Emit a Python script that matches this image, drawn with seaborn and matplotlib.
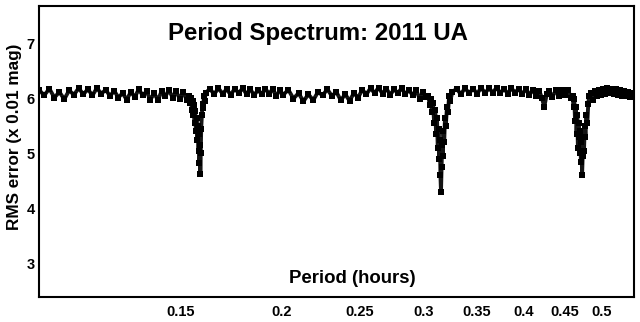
import numpy as np
import pandas as pd
import matplotlib
matplotlib.use("Agg")
import matplotlib.pyplot as plt
import seaborn as sns

# baseline of the spectrum (period in hours, rms in 0.01 mag)
base_period = [0.1000, 0.1015, 0.1030, 0.1045, 0.1060, 0.1075, 0.1090, 0.1105, 0.1120, 0.1135,
               0.1150, 0.1165, 0.1180, 0.1195, 0.1210, 0.1225, 0.1240, 0.1255, 0.1270, 0.1285,
               0.1300, 0.1315, 0.1330, 0.1345, 0.1360, 0.1375, 0.1390, 0.1405, 0.1420, 0.1435,
               0.1450, 0.1465, 0.1480, 0.1495, 0.1510, 0.1525,
               0.1610, 0.1630, 0.1650, 0.1670, 0.1690, 0.1710, 0.1730, 0.1750, 0.1770, 0.1790,
               0.1810, 0.1830, 0.1850, 0.1870, 0.1890, 0.1910, 0.1930, 0.1950, 0.1970, 0.1990,
               0.2010, 0.2040, 0.2070, 0.2100, 0.2130, 0.2160, 0.2190, 0.2220, 0.2250, 0.2280,
               0.2310, 0.2340, 0.2370, 0.2400, 0.2430, 0.2460, 0.2490, 0.2520, 0.2550, 0.2580,
               0.2610, 0.2640, 0.2670, 0.2700, 0.2730, 0.2760, 0.2790, 0.2820, 0.2850, 0.2880,
               0.2910, 0.2940, 0.2970, 0.3000, 0.3025,
               0.3260, 0.3300, 0.3340, 0.3380, 0.3420, 0.3460, 0.3500, 0.3540, 0.3580, 0.3620,
               0.3660, 0.3700, 0.3740, 0.3780, 0.3820, 0.3860, 0.3900, 0.3940, 0.3980, 0.4020,
               0.4060, 0.4100, 0.4140, 0.4180, 0.4210, 0.4240, 0.4270, 0.4300, 0.4340, 0.4380,
               0.4420, 0.4460, 0.4500, 0.4540, 0.4575,
               0.4840, 0.4870, 0.4900, 0.4930, 0.4960, 0.4990, 0.5020, 0.5050, 0.5080, 0.5110,
               0.5140, 0.5170, 0.5200, 0.5230, 0.5260, 0.5290, 0.5320, 0.5350, 0.5380, 0.5410,
               0.5440, 0.5470]
base_rms = [6.16, 6.06, 6.18, 6.02, 6.12, 5.99, 6.15, 6.07, 6.19, 6.08,
            6.17, 6.06, 6.19, 6.09, 6.16, 6.05, 6.14, 6.02, 6.10, 5.98,
            6.12, 6.03, 6.17, 6.06, 6.13, 5.98, 6.10, 5.97, 6.14, 6.04,
            6.16, 6.02, 6.13, 6.00, 6.12, 5.98,
            6.10, 6.18, 6.08, 6.19, 6.09, 6.17, 6.07, 6.18, 6.10, 6.19,
            6.08, 6.17, 6.06, 6.16, 6.08, 6.18, 6.09, 6.17, 6.05, 6.15,
            6.07, 6.16, 6.00, 6.10, 5.95, 6.08, 5.97, 6.12, 6.06, 6.17,
            6.05, 6.12, 5.97, 6.08, 5.96, 6.10, 6.02, 6.16, 6.08, 6.19,
            6.10, 6.20, 6.09, 6.18, 6.07, 6.17, 6.10, 6.19, 6.08, 6.16,
            6.06, 6.15, 6.00, 6.12, 6.03,
            6.12, 6.18, 6.08, 6.19, 6.10, 6.18, 6.09, 6.20, 6.10, 6.19,
            6.11, 6.20, 6.10, 6.18, 6.09, 6.19, 6.11, 6.18, 6.08, 6.17,
            6.07, 6.16, 6.05, 6.14, 6.02, 5.85, 6.08, 6.14, 6.03, 6.15,
            6.05, 6.16, 6.06, 6.15, 6.02,
            6.10, 5.98, 6.14, 6.04, 6.16, 6.07, 6.18, 6.09, 6.19, 6.10,
            6.18, 6.08, 6.17, 6.06, 6.15, 6.04, 6.13, 6.05, 6.12, 6.03,
            6.10, 6.06]

# the three dips
dip1_period = [0.1535, 0.1540, 0.1544, 0.1548, 0.1551, 0.1554, 0.1557, 0.1560, 0.1563, 0.1566,
               0.1569, 0.1572, 0.1575, 0.1578, 0.1580, 0.1582, 0.1584, 0.1586, 0.1588, 0.1590,
               0.1593, 0.1596, 0.1599, 0.1602, 0.1606]
dip1_rms = [6.05, 5.92, 6.02, 5.80, 5.95, 5.70, 5.88, 5.55, 5.78, 5.40,
            5.65, 5.25, 5.50, 5.05, 5.35, 4.82, 5.15, 4.62, 5.00, 5.45,
            5.70, 5.90, 5.82, 6.05, 5.95]

dip2_period = [0.3045, 0.3055, 0.3065, 0.3075, 0.3085, 0.3095, 0.3105, 0.3112, 0.3120, 0.3127,
               0.3134, 0.3140, 0.3146, 0.3151, 0.3156, 0.3161, 0.3166, 0.3172, 0.3178, 0.3185,
               0.3192, 0.3200, 0.3210, 0.3220, 0.3230, 0.3240]
dip2_rms = [6.05, 5.88, 6.00, 5.75, 5.92, 5.55, 5.80, 5.35, 5.65, 5.10,
            5.45, 4.90, 5.25, 4.60, 4.30, 4.75, 5.15, 4.95, 5.40, 5.20,
            5.65, 5.50, 5.85, 5.75, 6.05, 5.95]

dip3_period = [0.4600, 0.4610, 0.4620, 0.4630, 0.4640, 0.4650, 0.4660, 0.4668, 0.4676, 0.4684,
               0.4692, 0.4700, 0.4708, 0.4716, 0.4724, 0.4732, 0.4740, 0.4750, 0.4760, 0.4770,
               0.4782, 0.4795, 0.4808, 0.4820]
dip3_rms = [6.05, 5.85, 6.00, 5.60, 5.85, 5.35, 5.70, 5.10, 5.55, 5.30,
            5.00, 5.40, 4.85, 5.20, 4.60, 4.95, 5.30, 5.05, 5.50, 5.30,
            5.70, 5.55, 5.90, 6.05]

x_ticks = [0.15, 0.2, 0.25, 0.3, 0.35, 0.4, 0.45, 0.5]
x_ticklabels = ["0.15", "0.2", "0.25", "0.3", "0.35", "0.4", "0.45", "0.5"]
y_ticks = [3, 4, 5, 6, 7]

df = pd.DataFrame({
    "period": base_period + dip1_period + dip2_period + dip3_period,
    "rms": base_rms + dip1_rms + dip2_rms + dip3_rms,
}).sort_values("period")

sns.set_style("white")
plt.rcParams["font.family"] = ["Liberation Sans", "DejaVu Sans"]
plt.rcParams["font.weight"] = "bold"
plt.rcParams["text.color"] = "black"
plt.rcParams["xtick.color"] = "black"
plt.rcParams["ytick.color"] = "black"

fig = plt.figure(figsize=(6.4, 3.22), dpi=100)
ax = fig.add_axes([39 / 640, 25 / 322, 595 / 640, 291 / 322])

sns.lineplot(data=df, x="period", y="rms", ax=ax, estimator=None, sort=True,
             color="#141414", linewidth=2.8, marker="s", markersize=3.8,
             markeredgewidth=0, markerfacecolor="black")

ax.set_xscale("log")
ax.set_xlim(0.1, 0.548)
ax.set_ylim(2.38, 7.69)
ax.set_xticks(x_ticks)
ax.set_xticklabels(x_ticklabels)
ax.xaxis.set_minor_locator(matplotlib.ticker.NullLocator())
ax.set_yticks(y_ticks)
ax.tick_params(axis="x", direction="in", length=3, width=0.8, pad=6, labelsize=10.5)
ax.tick_params(axis="y", length=0, pad=3, labelsize=10.5)
for lab in ax.get_xticklabels() + ax.get_yticklabels():
    lab.set_fontweight("bold")

ax.set_xlabel("")
ax.set_ylabel("")
for s in ax.spines.values():
    s.set_color("black")
    s.set_linewidth(1.5)

ax.text(0.469, 0.907, "Period Spectrum: 2011 UA", transform=ax.transAxes,
        ha="center", va="center", fontsize=17.3, fontweight="bold")
ax.text(0.526, 0.065, "Period (hours)", transform=ax.transAxes,
        ha="center", va="center", fontsize=13.4, fontweight="bold")
fig.text(15 / 640, 1 - 137 / 322, "RMS error (x 0.01 mag)", rotation=90,
         ha="center", va="center", fontsize=12.3, fontweight="bold")

fig.savefig("out.png", dpi=100)
